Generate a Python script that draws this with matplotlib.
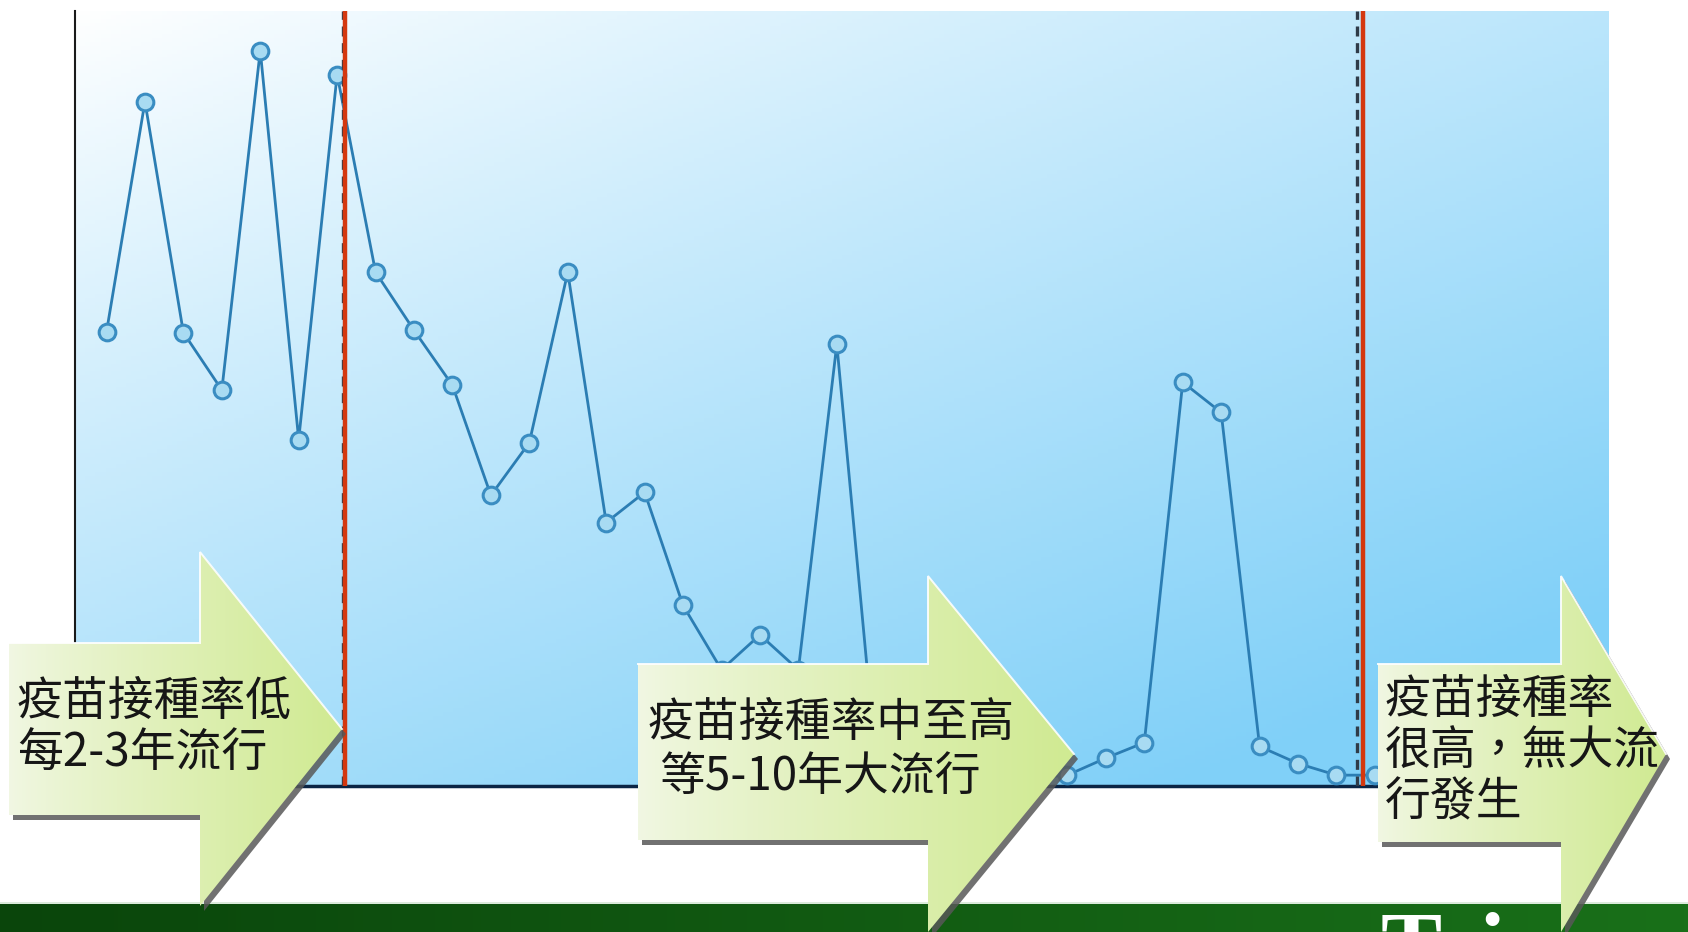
import matplotlib
matplotlib.use("Agg")
import matplotlib.pyplot as plt
import numpy as np
from matplotlib.patches import Polygon
from matplotlib.colors import to_rgb

cases = [58.6, 88.3, 58.5, 51.1, 94.9, 44.7, 91.8,
         66.3, 58.8, 51.7, 37.5, 44.3, 66.3, 34.0, 37.9, 23.3, 15.0, 19.5, 15.0, 57.0,
         4.0, 2.5, 1.5, 2.0, 1.0, 1.4, 3.6, 5.6, 52.1, 48.2, 5.1, 2.9, 1.4, 1.4]
era_breaks = [6.20, 32.69]       # red lines between vaccination eras
dashed_breaks = [6.15, 32.54]    # dark dashed guides next to them

arrow_lines = [
    ["疫苗接種率低", "每2-3年流行"],
    ["疫苗接種率中至高", "等5-10年大流行"],
    ["疫苗接種率", "很高，無大流", "行發生"],
]
footer_text = "Taiwan CDC"

CJK = ["Noto Sans CJK TC", "DejaVu Sans"]
W, H = 1688, 932


def lerp(c0, c1, t):
    c0, c1 = np.array(to_rgb(c0)), np.array(to_rgb(c1))
    return c0 + (c1 - c0) * t[..., None]


def block_arrow(ax, x0, y0, y1, hx, hy0, hy1, tx):
    ym = (hy0 + hy1) / 2
    pts = [(x0, y0), (hx, y0), (hx, hy0), (tx, ym), (hx, hy1), (hx, y1), (x0, y1)]
    ax.add_patch(Polygon([(px + 4, py + 5) for px, py in pts], closed=True,
                         fc="#585858", ec="none", alpha=0.85, zorder=3))
    poly = Polygon(pts, closed=True, fc="none", ec="none", zorder=4)
    ax.add_patch(poly)
    grad = lerp("#f1f7e3", "#d0ea92", np.linspace(0, 1, 256)[None, :] ** 0.85)
    im = ax.imshow(grad, extent=(x0, tx, hy1, hy0), aspect="auto", zorder=4)
    im.set_clip_path(poly)
    # light rim along the top edge and upper slope of the head
    ax.plot([x0, hx, hx, tx], [y0, y0, hy0, ym], color="white", lw=1.4,
            alpha=0.9, zorder=4.5, solid_joinstyle="miter")


fig = plt.figure(figsize=(W / 100, H / 100), dpi=100)
fig.patch.set_facecolor("white")

# main chart
ax = fig.add_axes([75 / W, 1 - 786 / H, (1609 - 75) / W, (786 - 11) / H])
xlim = (-0.82, 39.09)
gx, gy = np.meshgrid(np.linspace(0, 1, 300), np.linspace(0, 1, 200))
t = np.clip((0.55 * gx + 0.7 * gy) / 1.1, 0, 1)
ax.imshow(lerp("#ffffff", "#80d0f8", t ** 0.9), extent=(*xlim, 0, 100),
          origin="upper", aspect="auto", zorder=0)

x = np.arange(len(cases))
ax.plot(x, cases, color="#2b7db3", lw=2.0, marker="o", ms=12,
        mfc="#a8dbf2", mec="#3a8dc2", mew=2.2, zorder=3)
for b in dashed_breaks:
    ax.axvline(b, color="#2f3b48", lw=2.4, ls=(0, (3, 2)), zorder=3.5)
for b in era_breaks:
    ax.axvline(b, color="#d4380f", lw=3.2, zorder=4)

ax.set_xlim(*xlim)
ax.set_ylim(0, 100)
ax.set_xticks([])
ax.set_yticks([])
for s in ["top", "right"]:
    ax.spines[s].set_visible(False)
ax.spines["left"].set_color("#1a1a1a")
ax.spines["left"].set_linewidth(1.5)
ax.spines["bottom"].set_color("#0b2545")
ax.spines["bottom"].set_linewidth(2.5)

# slide decorations in pixel space
ov = fig.add_axes([0, 0, 1, 1], zorder=5)
ov.patch.set_alpha(0)

band = lerp("#0a450b", "#197019", np.linspace(0, 1, 400)[None, :])
ov.imshow(band, extent=(0, W, H, 904), aspect="auto", zorder=1)
ov.plot([0, W], [903, 903], color="#d6e8d6", lw=1.2, zorder=1.5)
ov.text(1381, 975, footer_text, color="white", fontsize=66, fontweight="bold",
        family="Liberation Serif", ha="left", va="baseline", zorder=2, clip_on=False)

block_arrow(ov, 9, 643, 815, 200, 552, 906, 342)
block_arrow(ov, 638, 664, 840, 928, 576, 932, 1074)
block_arrow(ov, 1378, 664, 842, 1561, 576, 932, 1666)

kw = dict(fontsize=33, color="#161616", family=CJK, va="center", zorder=6)
ov.text(17, 702, arrow_lines[0][0], ha="left", **kw)
ov.text(17, 754, arrow_lines[0][1], ha="left", **kw)
ov.text(831, 723, arrow_lines[1][0], ha="center", **kw)
ov.text(820, 777, arrow_lines[1][1], ha="center", **kw)
for i, line in enumerate(arrow_lines[2]):
    ov.text(1385, 700 + 51 * i, line, ha="left", **kw)

ov.set_xlim(0, W)
ov.set_ylim(H, 0)
ov.axis("off")

fig.savefig("out.png", dpi=100)
